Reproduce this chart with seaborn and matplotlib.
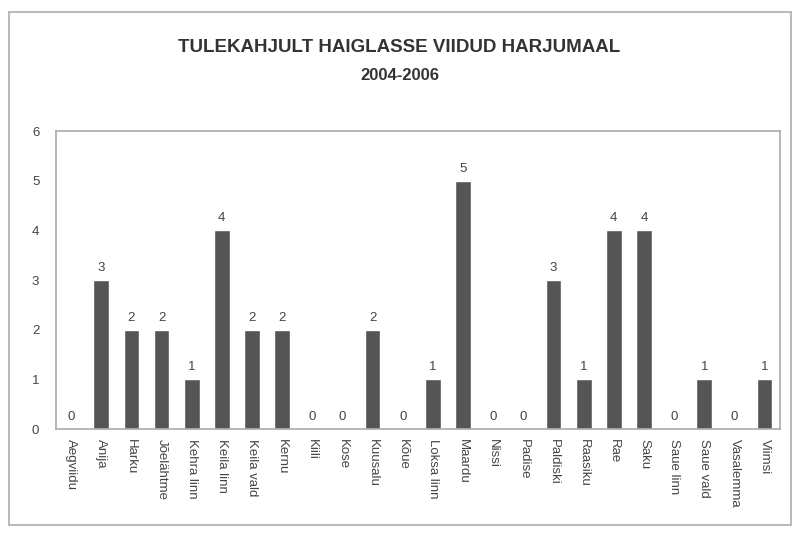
import matplotlib
matplotlib.use("Agg")
import matplotlib.pyplot as plt
import seaborn as sns
import pandas as pd
from matplotlib.patches import Rectangle

vallad = ["Aegviidu", "Anija", "Harku", "Jõelähtme", "Kehra linn", "Keila linn",
          "Keila vald", "Kernu", "Kiili", "Kose", "Kuusalu", "Kõue", "Loksa linn",
          "Maardu", "Nissi", "Padise", "Paldiski", "Raasiku", "Rae", "Saku",
          "Saue linn", "Saue vald", "Vasalemma", "Viimsi"]
viidud = [0, 3, 2, 2, 1, 4, 2, 2, 0, 0, 2, 0, 1, 5, 0, 0, 3, 1, 4, 4, 0, 1, 0, 1]

df = pd.DataFrame({"vald": vallad, "arv": viidud})

sns.set_style("white")
plt.rcParams["font.family"] = ["Liberation Sans", "DejaVu Sans"]

fig = plt.figure(figsize=(7.94, 5.33), dpi=100)
ax = fig.add_axes([0.0705, 0.195, 0.9115, 0.559])

sns.barplot(data=df, x="vald", y="arv", color="#555555", width=0.52,
            saturation=1, ax=ax)

for i, v in enumerate(viidud):
    ax.text(i, v + 0.12, str(v), ha="center", va="bottom", fontsize=9.5, color="#444444")

ax.set_ylim(0, 6)
ax.set_xlim(-0.5, len(vallad) - 0.5)
ax.set_yticks(range(0, 7))
ax.tick_params(axis="y", labelsize=9.5, colors="#444444", length=0, pad=12)
ax.tick_params(axis="x", labelsize=9.5, colors="#444444", length=0, pad=7)
plt.setp(ax.get_xticklabels(), rotation=270)
ax.set_xlabel("")
ax.set_ylabel("")
for s in ax.spines.values():
    s.set_color("#aaaaaa")
    s.set_linewidth(1.2)

fig.text(0.503, 0.911, "TULEKAHJULT HAIGLASSE VIIDUD HARJUMAAL", ha="center",
         va="center", fontsize=13.5, fontweight="bold", color="#333333")
fig.text(0.503, 0.859, "2004-2006", ha="center", va="center", fontsize=12,
         fontweight="bold", color="#333333")

# outer chart frame
fig.patches.append(Rectangle((0.011, 0.015), 0.985, 0.963, transform=fig.transFigure,
                             fill=False, edgecolor="#bbbbbb", linewidth=1.5))

plt.savefig("out.png", dpi=100)
plt.close()
